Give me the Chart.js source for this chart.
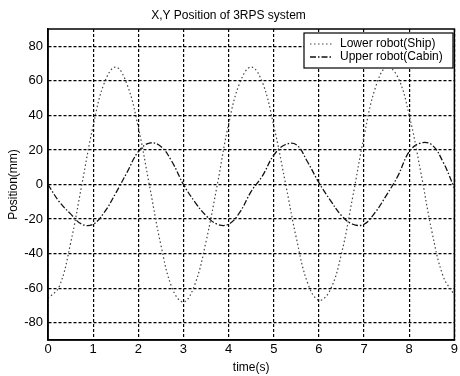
<!DOCTYPE html>
<html>
<head>
<meta charset="utf-8">
<script src="https://cdn.jsdelivr.net/npm/chart.js@4/dist/chart.umd.min.js"></script>
<style>
  html, body { margin: 0; padding: 0; background: #fff; }
  #wrap { width: 460px; height: 376px; }
</style>
</head>
<body>
<div id="wrap"><canvas id="posChart" width="460" height="376"></canvas></div>
<script>
// time samples (s)
const timeVals = [0, 0.25, 0.5, 0.75, 1, 1.25, 1.5, 1.75, 2, 2.25, 2.5, 2.75,
                  3, 3.25, 3.5, 3.75, 4, 4.25, 4.5, 4.75, 5, 5.25, 5.5, 5.75,
                  6, 6.25, 6.5, 6.75, 7, 7.25, 7.5, 7.75, 8, 8.25, 8.5, 8.75, 9];

// Lower robot (Ship), mm
const lowerShip = [-66, -59, -34, 0, 34, 59, 68, 58, 33, -1, -35, -60,
                   -68, -58, -33, 0, 35, 59, 68, 59, 34, 2, -31, -57,
                   -67, -61, -40, -7, 28, 56, 68, 62, 40, 8, -27, -53, -64];

// Upper robot (Cabin), mm
const upperCabin = [0, -10, -17, -23, -23, -16, -5, 7, 19, 24, 22, 13,
                    0, -10, -18, -23, -23, -16, -4, 5, 17, 23, 23, 13,
                    1, -9, -18, -23, -23, -16, -6, 5, 19, 24, 23, 13, -2];

const seriesNames = ['Lower robot(Ship)', 'Upper robot(Cabin)'];
const xTicks = [0, 1, 2, 3, 4, 5, 6, 7, 8, 9];
const yTicks = [-80, -60, -40, -20, 0, 20, 40, 60, 80];

const FONT = 'Arial, "Liberation Sans", Helvetica, sans-serif';

function toPoints(vals) {
    return vals.map((v, i) => ({ x: timeVals[i], y: v }));
}

// box around the plot area, like matlab's "box on"
const boxPlugin = {
    id: 'box',
    afterDatasetsDraw(chart) {
        const a = chart.chartArea;
        const ctx = chart.ctx;
        ctx.save();
        ctx.strokeStyle = '#000';
        ctx.lineWidth = 1.5;
        ctx.strokeRect(a.left, a.top, a.right - a.left, a.bottom - a.top);
        ctx.restore();
    }
};

// legend box drawn inside the axes, top right
const legendBoxPlugin = {
    id: 'legendBox',
    afterDatasetsDraw(chart) {
        const ctx = chart.ctx;
        const x = 304, y = 33, w = 149, h = 35;
        ctx.save();
        ctx.fillStyle = '#fff';
        ctx.fillRect(x, y, w, h);
        ctx.strokeStyle = '#000';
        ctx.lineWidth = 1.2;
        ctx.strokeRect(x, y, w, h);
        chart.data.datasets.forEach((ds, i) => {
            const ly = y + 11 + i * 13;
            ctx.beginPath();
            ctx.setLineDash(ds.borderDash || []);
            ctx.strokeStyle = ds.borderColor;
            ctx.lineWidth = ds.borderWidth;
            ctx.moveTo(x + 6, ly);
            ctx.lineTo(x + 29, ly);
            ctx.stroke();
            ctx.setLineDash([]);
            ctx.fillStyle = '#000';
            ctx.font = '12px ' + FONT;
            ctx.textBaseline = 'middle';
            ctx.textAlign = 'left';
            ctx.fillText(ds.label, x + 36, ly);
        });
        ctx.restore();
    }
};

const ctx = document.getElementById('posChart').getContext('2d');
new Chart(ctx, {
    type: 'line',
    data: {
        datasets: [
            {
                label: seriesNames[0],
                data: toPoints(lowerShip),
                borderColor: '#444',
                borderWidth: 1.2,
                borderDash: [1.5, 2.5],
                pointRadius: 0,
                tension: 0.4,
                fill: false
            },
            {
                label: seriesNames[1],
                data: toPoints(upperCabin),
                borderColor: '#111',
                borderWidth: 1.3,
                borderDash: [6, 2, 1.5, 2],
                pointRadius: 0,
                tension: 0.4,
                fill: false
            }
        ]
    },
    options: {
        responsive: false,
        animation: false,
        events: [],
        layout: { padding: { left: 0, right: 3, top: 0, bottom: 0 } },
        scales: {
            x: {
                type: 'linear',
                min: 0,
                max: 9,
                afterBuildTicks: s => { s.ticks = xTicks.map(v => ({ value: v })); },
                afterFit: s => { s.height = 36; },
                ticks: { color: '#000', padding: 2, font: { family: FONT, size: 13 } },
                grid: { color: '#000', lineWidth: 1.2, drawTicks: false },
                border: { color: '#000', width: 1.5, dash: [3, 2] },
                title: {
                    display: true,
                    text: 'time(s)',
                    color: '#000',
                    font: { family: FONT, size: 12 },
                    padding: { top: 0, bottom: 1 }
                }
            },
            y: {
                type: 'linear',
                min: -90,
                max: 90,
                afterBuildTicks: s => { s.ticks = yTicks.map(v => ({ value: v })); },
                afterFit: s => { s.width = 48; },
                ticks: { color: '#000', padding: 5, font: { family: FONT, size: 13 } },
                grid: { color: '#000', lineWidth: 1.2, drawTicks: false },
                border: { color: '#000', width: 1.5, dash: [3, 2] },
                title: {
                    display: true,
                    text: 'Position(mm)',
                    color: '#000',
                    font: { family: FONT, size: 12 },
                    padding: { top: 6, bottom: 0 }
                }
            }
        },
        plugins: {
            legend: { display: false },
            tooltip: { enabled: false },
            title: {
                display: true,
                text: 'X,Y Position of 3RPS system',
                color: '#000',
                font: { family: FONT, size: 12, weight: 'normal' },
                padding: { top: 8, bottom: 6.6 }
            }
        }
    },
    plugins: [boxPlugin, legendBoxPlugin]
});
</script>
</body>
</html>
